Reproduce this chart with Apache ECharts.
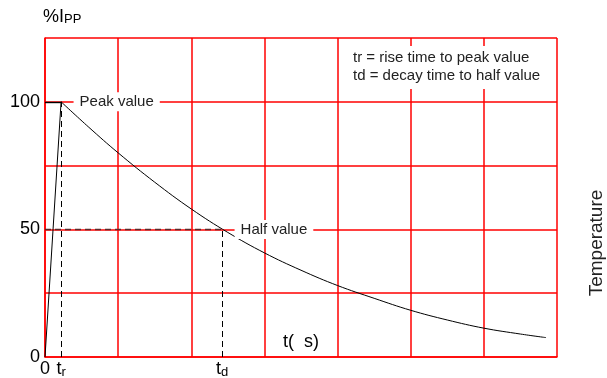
<!DOCTYPE html>
<html>
<head>
<meta charset="utf-8">
<script src="https://cdn.jsdelivr.net/npm/echarts@6/dist/echarts.min.js"></script>
<style>
html, body { margin: 0; padding: 0; background: #fff; }
#chart { width: 607px; height: 378px; }
</style>
</head>
<body>
<div id="chart"></div>
<script>
var dom = document.getElementById('chart');
var myChart = echarts.init(dom);

// times on the t axis (one grid cell = 1)
var tRise = 0.22;
var tDecay = 2.42;

// rise from 0 to peak
var riseData = [[0, 0], [tRise, 100]];
// decay curve
var decayT = [0.22, 0.6, 1, 1.5, 2, 2.5, 3, 3.5, 4, 4.5, 5, 5.5, 6, 6.5, 6.85];
var decayV = [100, 90, 80, 68.5, 58, 48.8, 40.8, 34, 28, 23, 18.3, 14.5, 11.3, 9, 7.6];

// labels under the t axis
var xLabelT = [0, tRise, tDecay];
var xLabelText = ['0', '{t|t}{s|r}', '{t|t}{s|d}'];
var yLabelValues = [0, 50, 100];

var font = 'Arial, "Liberation Sans", sans-serif';
var red = '#ff0000';

var decayData = decayT.map(function (t, i) { return [t, decayV[i]]; });

var option = {
  animation: false,
  textStyle: { fontFamily: font },
  grid: { left: 45, right: 50, top: 38, bottom: 21, show: false },
  xAxis: {
    type: 'value',
    min: 0,
    max: 7,
    interval: 1,
    axisLine: { show: true, lineStyle: { color: red, width: 1.5 } },
    axisTick: { show: false },
    splitLine: { show: true, lineStyle: { color: red, width: 1.5 } },
    axisLabel: { show: false }
  },
  yAxis: {
    type: 'value',
    min: 0,
    max: 125,
    interval: 25,
    axisLine: { show: true, lineStyle: { color: red, width: 1.5 } },
    axisTick: { show: false },
    splitLine: { show: true, lineStyle: { color: red, width: 1.5 } },
    axisLabel: {
      margin: 5,
      color: '#000',
      fontSize: 18,
      fontFamily: font,
      formatter: function (v) {
        return yLabelValues.indexOf(v) >= 0 ? String(v) : '';
      }
    }
  },
  series: [
    {
      name: 'rise',
      type: 'line',
      data: riseData,
      symbol: 'none',
      lineStyle: { color: '#000', width: 1 },
      z: 5,
      markLine: {
        silent: true,
        symbol: 'none',
        label: { show: false },
        lineStyle: { color: '#000', width: 1, type: [6, 4] },
        data: [
          [{ coord: [tRise, 0] }, { coord: [tRise, 100] }],
          [{ coord: [tDecay, 0] }, { coord: [tDecay, 50] }],
          [{ coord: [0, 50] }, { coord: [tDecay, 50], lineStyle: { color: '#5a2a2a', width: 1.4, type: [6, 4] } }],
          [{ coord: [0, 100] }, { coord: [tRise, 100], lineStyle: { color: '#000', width: 1.4, type: 'solid' } }]
        ]
      },
      markPoint: {
        silent: true,
        symbol: 'rect',
        symbolSize: 0,
        label: {
          show: true,
          position: 'inside',
          color: '#222',
          fontSize: 15,
          fontFamily: font,
          backgroundColor: '#fff',
          padding: [2, 6]
        },
        data: [
          { coord: [0.98, 100], value: 'Peak value', label: { formatter: 'Peak value' } },
          { coord: [3.13, 50], value: 'Half value', label: { formatter: 'Half value' } }
        ].concat(xLabelT.map(function (t, i) {
          return {
            coord: [t, 0],
            value: xLabelText[i],
            label: {
              formatter: xLabelText[i],
              position: 'bottom',
              distance: 3,
              backgroundColor: 'transparent',
              padding: 0,
              color: '#000',
              fontSize: 18,
              rich: {
                t: { fontSize: 18, fontFamily: font, color: '#000' },
                s: { fontSize: 13, fontFamily: font, color: '#000', padding: [6, 0, 0, 0] }
              }
            }
          };
        }))
      }
    },
    {
      name: 'decay',
      type: 'line',
      data: decayData,
      symbol: 'none',
      smooth: 0.4,
      lineStyle: { color: '#000', width: 1 },
      z: 4
    }
  ],
  graphic: [
    {
      type: 'text',
      left: 43,
      top: 8,
      style: {
        text: '{a|%I}{b|PP}',
        rich: {
          a: { fontSize: 18, fontFamily: font, fill: '#000' },
          b: { fontSize: 13, fontFamily: font, fill: '#000', padding: [5, 0, 0, 0] }
        }
      }
    },
    {
      type: 'rect',
      shape: { x: 345, y: 46, width: 205, height: 43 },
      style: { fill: '#fff' },
      z: 10
    },
    {
      type: 'text',
      left: 353,
      top: 49,
      z: 11,
      style: {
        text: 'tr = rise time to peak value\ntd = decay time to half value',
        fontSize: 15,
        lineHeight: 18,
        fontFamily: font,
        fill: '#222'
      }
    },
    {
      type: 'text',
      left: 283,
      top: 333,
      style: {
        text: 't(  s)',
        fontSize: 18,
        fontFamily: font,
        fill: '#000'
      }
    },
    {
      type: 'text',
      x: 597,
      y: 243,
      rotation: Math.PI / 2,
      style: {
        text: 'Temperature',
        fontSize: 19,
        fontFamily: font,
        fill: '#222',
        align: 'center',
        verticalAlign: 'middle'
      }
    }
  ]
};

myChart.setOption(option);
</script>
</body>
</html>
